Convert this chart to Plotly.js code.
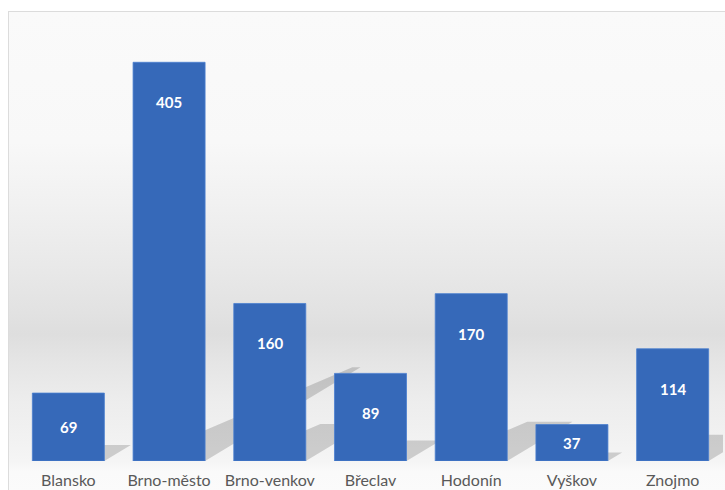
<!DOCTYPE html>
<html><head><meta charset="utf-8">
<script src="https://cdn.plot.ly/plotly-3.0.1.min.js"></script>
<style>
html,body{margin:0;padding:0;background:#fff;width:725px;height:490px;overflow:hidden}
#bg{position:absolute;left:8px;top:11px;width:730px;height:490px;border-top:1px solid #dcdcdc;border-left:1px solid #dcdcdc;
background:linear-gradient(to bottom,#fafafa 0px,#f8f8f8 130px,#f1f1f1 190px,#e8e8e8 260px,#e2e2e2 300px,#dedede 322px,#e5e5e5 350px,#ededed 390px,#f2f2f2 430px,#f5f5f5 449px,#fafafa 460px,#fbfbfb 480px)}
#chart{position:absolute;left:0;top:0;width:725px;height:490px}
#chart .layer-below .shapelayer path{filter:url(#soft)}
</style></head><body>
<svg width="0" height="0" style="position:absolute"><defs><filter id="soft" x="-20%" y="-20%" width="140%" height="140%"><feGaussianBlur stdDeviation="2.5"/></filter></defs></svg>
<div id="bg"></div><div id="chart"></div>
<script>
const districts = ["Blansko","Brno-město","Brno-venkov","Břeclav","Hodonín","Vyškov","Znojmo"];
const cases = [69,405,160,89,170,37,114];

const W = 725, H = 490;
const margin = {l:18, r:2, t:17, b:29};
const yMax = 451;
const barWidth = 0.715;
const pxPerY = (H - margin.t - margin.b) / yMax;
const pxPerX = (W - margin.l - margin.r) / districts.length;
const idx = districts.map((_, i) => i);

// perspective shadow cast from each bar base toward the upper right
let path = "";
cases.forEach((v, i) => {
  const hpx = v * pxPerY;
  const dx = 0.55 * hpx / pxPerX;
  const hs = 0.235 * v;
  const topW = barWidth * Math.max(0.1, 1 - hpx / 450);
  const x0 = i - barWidth/2, x1 = i + barWidth/2;
  path += `M${x0},0 L${x1},0 L${x0+dx+topW},${hs} L${x0+dx},${hs} Z `;
});

const shapes = [{
  type:'path', xref:'x', yref:'y', path:path, layer:'below',
  fillcolor:'rgba(0,0,0,0.16)', fillrule:'nonzero', line:{width:0}
}];

const annotations = cases.map((v, i) => ({
  x:i, y:Math.max(v - 40/pxPerY, v/2), xref:'x', yref:'y',
  text:String(v), showarrow:false,
  font:{family:'Lato, "Open Sans", sans-serif', size:15, color:'#ffffff', weight:700}
}));

const trace = {
  type:'bar', x:idx, y:cases, width:barWidth,
  marker:{color:'#3669b9', line:{color:'#4a7fcf', width:0.8}},
  hoverinfo:'skip', textposition:'none'
};

Plotly.newPlot('chart', [trace], {
  width:W, height:H, margin:margin,
  paper_bgcolor:'rgba(0,0,0,0)', plot_bgcolor:'rgba(0,0,0,0)',
  showlegend:false,
  xaxis:{range:[-0.5, districts.length-0.5], tickvals:idx, ticktext:districts,
    showgrid:false, zeroline:false, showline:false, ticks:'', ticklabelstandoff:8,
    tickfont:{family:'Lato, "Open Sans", sans-serif', size:16, color:'#595959'}},
  yaxis:{range:[0,yMax], visible:false, showgrid:false, zeroline:false},
  shapes:shapes, annotations:annotations
}, {staticPlot:true, displayModeBar:false});
</script></body></html>
